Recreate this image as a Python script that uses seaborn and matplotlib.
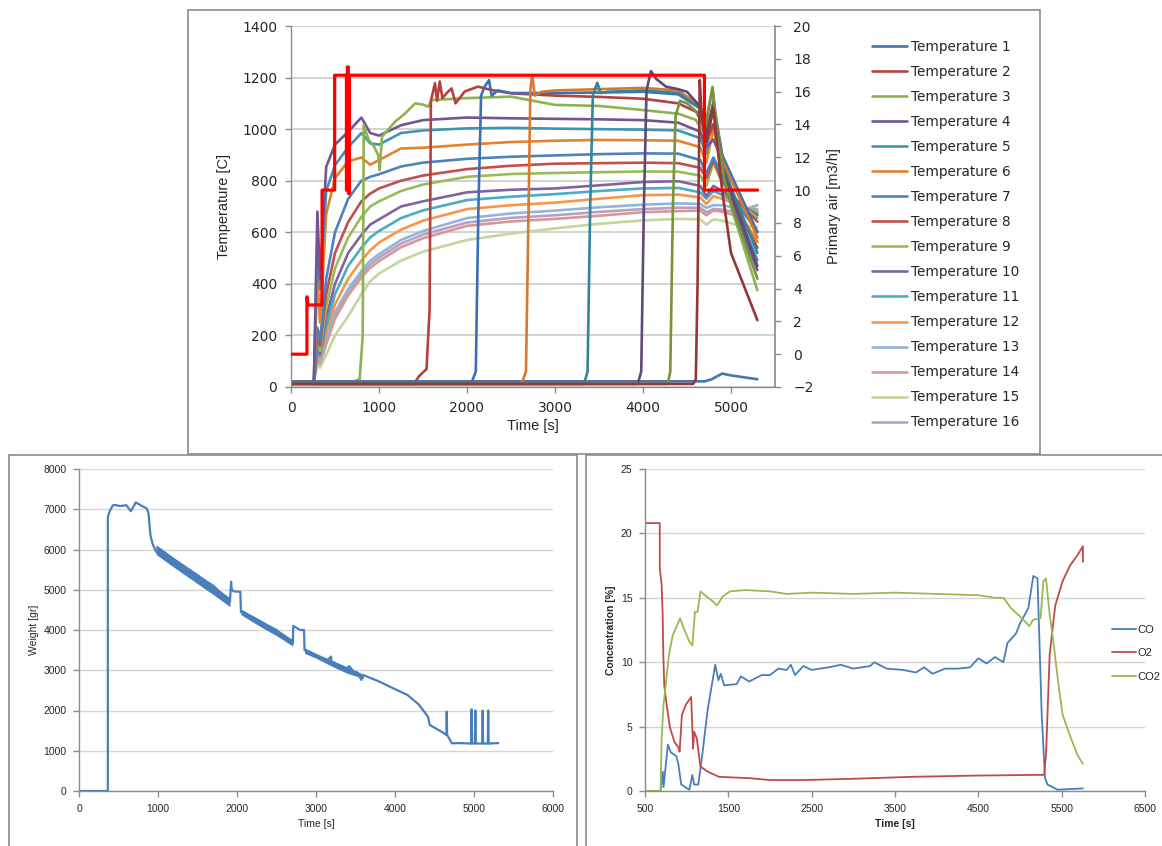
import matplotlib
matplotlib.use("Agg")
import matplotlib.pyplot as plt
import seaborn as sns
from matplotlib.patches import Rectangle

# ---------------- top chart: bed temperatures + primary air ----------------
grad_time = [0, 260, 300, 330, 400, 500, 650, 800, 900, 1000, 1250, 1500, 2000,
             2500, 3000, 3500, 4000, 4400, 4650, 4720, 4800, 4900, 5050, 5300]

temp4 = [20, 20, 680, 420, 854, 940, 990, 1045, 985, 975, 1015, 1035, 1045, 1042,
         1040, 1038, 1035, 1025, 990, 930, 960, 880, 680, 453]
temp5 = [20, 20, 590, 380, 760, 860, 930, 985, 945, 940, 985, 995, 1003, 1005,
         1002, 1000, 998, 995, 965, 905, 1110, 900, 700, 492]
temp6 = [20, 20, 440, 250, 670, 810, 875, 890, 862, 880, 925, 928, 940, 950,
         955, 958, 957, 955, 930, 870, 1000, 870, 700, 563]
temp7 = [20, 20, 230, 180, 420, 600, 730, 800, 815, 825, 855, 870, 885, 893,
         898, 903, 906, 905, 880, 830, 890, 820, 720, 602]
temp8 = [20, 20, 200, 160, 360, 520, 640, 720, 750, 770, 800, 820, 845, 858,
         866, 868, 870, 868, 850, 810, 880, 800, 730, 641]
temp9 = [20, 20, 170, 140, 310, 460, 580, 660, 700, 720, 760, 785, 815, 826,
         830, 833, 836, 835, 820, 780, 870, 790, 730, 654]
temp10 = [20, 20, 150, 130, 270, 400, 520, 590, 630, 650, 700, 720, 755, 765,
          770, 782, 795, 798, 780, 740, 780, 760, 720, 665]
temp11 = [20, 20, 140, 120, 235, 360, 470, 540, 580, 605, 655, 685, 725, 738,
          748, 760, 770, 772, 755, 730, 760, 745, 715, 673]
temp12 = [20, 20, 130, 110, 210, 320, 420, 490, 530, 560, 610, 645, 690, 705,
          715, 730, 744, 746, 735, 710, 740, 730, 710, 680]
temp13 = [20, 20, 120, 100, 185, 290, 380, 450, 490, 515, 570, 605, 655, 673,
          684, 697, 707, 712, 710, 695, 705, 705, 695, 690]
temp14 = [20, 20, 110, 90, 165, 265, 355, 425, 462, 488, 542, 577, 625, 642,
          652, 664, 678, 682, 684, 666, 684, 680, 665, 670]
temp15 = [20, 20, 90, 75, 125, 200, 275, 360, 410, 440, 490, 525, 570, 595,
          615, 633, 646, 652, 650, 630, 650, 645, 630, 620]
temp16 = [20, 20, 115, 95, 175, 280, 368, 438, 476, 502, 556, 591, 638, 656,
          666, 679, 690, 695, 695, 678, 690, 688, 678, 705]

t1_time = [0, 4700, 4780, 4900, 5000, 5300]
temp1 = [22, 22, 30, 52, 45, 30]

t2_time = [0, 300, 1400, 1450, 1540, 1575, 1590, 1636, 1660, 1690, 1720, 1767,
           1824, 1870, 1899, 1974, 2124, 2275, 2500, 3000, 3500, 4000, 4400,
           4650, 4720, 4800, 4900, 5050, 5300]
temp2 = [20, 12, 12, 40, 70, 300, 1110, 1178, 1110, 1185, 1120, 1139, 1158, 1100,
         1113, 1146, 1165, 1152, 1139, 1130, 1125, 1118, 1100, 1060, 950, 1020,
         870, 700, 540]

t3_time = [0, 700, 780, 815, 827, 850, 883, 940, 990, 1008, 1034, 1184, 1297,
           1410, 1500, 1560, 1598, 1974, 2500, 3000, 3500, 4000, 4400, 4600, 4700,
           4790, 4850, 5000, 5300]
temp3 = [20, 20, 30, 200, 1016, 990, 958, 935, 900, 841, 971, 1029, 1061, 1100,
         1095, 1087, 1113, 1120, 1126, 1094, 1090, 1074, 1060, 1036, 980, 1165,
         960, 700, 375]

# thermocouples reached later by the front (not in the legend)
rb_time = [0, 2050, 2100, 2130, 2160, 2200, 2250, 2280, 2350, 2500, 3000, 3500,
           4000, 4400, 4650, 4720, 4800, 4900, 5300]
rb_temp = [15, 15, 60, 700, 1130, 1165, 1190, 1130, 1150, 1140, 1140, 1142, 1145,
           1135, 1080, 980, 1080, 900, 600]
ro_time = [0, 2620, 2670, 2700, 2720, 2740, 2770, 2850, 3000, 3500, 4000, 4400,
           4650, 4720, 4800, 4900, 5300]
ro_temp = [12, 12, 60, 700, 1150, 1210, 1130, 1145, 1150, 1155, 1160, 1150, 1090,
           1000, 1100, 880, 580]
rt_time = [0, 3330, 3370, 3400, 3430, 3480, 3520, 3600, 4000, 4400, 4650, 4720,
           4800, 4900, 5300]
rt_temp = [12, 12, 60, 700, 1130, 1180, 1140, 1145, 1150, 1140, 1080, 990, 1090,
           860, 520]
rp_time = [0, 3940, 3980, 4010, 4040, 4090, 4150, 4260, 4400, 4500, 4650, 4720,
           4800, 4900, 5300]
rp_temp = [12, 12, 60, 700, 1150, 1225, 1195, 1165, 1155, 1145, 1087, 980, 1100,
           850, 470]
rg_time = [0, 4280, 4310, 4340, 4370, 4420, 4500, 4600, 4700, 4790, 4850, 4950, 5300]
rg_temp = [12, 12, 60, 700, 1050, 1110, 1100, 1070, 1000, 1160, 960, 760, 420]
rr_time = [0, 4570, 4600, 4620, 4645, 4665, 4700, 4720, 4800, 4900, 5000, 5300]
rr_temp = [12, 12, 30, 400, 1190, 1060, 980, 950, 1080, 760, 520, 259]

air_time = [0, 181, 181, 195, 353, 353, 496, 496, 630, 630, 640, 640, 652, 652,
            664, 664, 4698, 4698, 5302]
air_flow = [0, 0, 3.5, 3.0, 3.0, 10, 10, 17, 17, 10, 10, 17.5, 17.5, 9.8, 9.8,
            17, 17, 10, 10]

# ---------------- bottom left: weight ----------------
weight_time = [0, 365, 365, 380, 400, 430, 459, 520, 600, 656, 700, 717, 780, 857,
               880, 904, 930, 974, 1200, 1500, 1700, 1911, 1925, 1934, 1960, 2042,
               2050, 2300, 2500, 2707, 2712, 2731, 2800, 2848, 2855, 3000, 3129,
               3190, 3200, 3220, 3300, 3363, 3420, 3480, 3520, 3574, 3600, 3800,
               4000, 4159, 4300, 4417, 4440, 4600, 4651, 4655, 4660, 4721, 4800,
               4965, 4970, 4975, 5010, 5017, 5024, 5105, 5110, 5115, 5175, 5180,
               5185, 5307]
weight_gr = [0, 0, 6800, 6900, 7000, 7100, 7105, 7080, 7100, 6950, 7100, 7170, 7100,
             7020, 6900, 6360, 6150, 5950, 5700, 5350, 5100, 4700, 5200, 5000, 4960,
             4950, 4450, 4200, 4000, 3670, 4100, 4080, 4000, 4000, 3500, 3370, 3210,
             3340, 3130, 3200, 3050, 3010, 3100, 2960, 2950, 2760, 2880, 2720, 2530,
             2385, 2150, 1847, 1640, 1460, 1391, 1970, 1391, 1184, 1190, 1180, 2030,
             1180, 1180, 2000, 1180, 1180, 2000, 1180, 1180, 2000, 1180, 1190]
# scatter band of the scale signal
band1_time = [974, 1200, 1500, 1700, 1911]
band1_lo = [5880, 5560, 5150, 4880, 4580]
band1_hi = [6120, 5800, 5400, 5100, 4800]
band2_time = [2050, 2300, 2500, 2707]
band2_lo = [4380, 4080, 3860, 3600]
band2_hi = [4520, 4250, 4020, 3760]
band3_time = [2855, 3000, 3200, 3400, 3600]
band3_lo = [3420, 3300, 3100, 2920, 2800]
band3_hi = [3560, 3420, 3250, 3080, 2900]

# ---------------- bottom right: gas concentrations ----------------
co_time = [500, 686, 713, 722, 775, 810, 877, 900, 935, 1032, 1068, 1090, 1140,
           1187, 1254, 1343, 1380, 1409, 1450, 1600, 1650, 1750, 1900, 2000, 2100,
           2200, 2250, 2300, 2400, 2500, 2700, 2850, 3000, 3200, 3250, 3400, 3600,
           3750, 3850, 3950, 4100, 4250, 4400, 4500, 4600, 4700, 4800, 4850, 4950,
           5000, 5100, 5160, 5210, 5260, 5300, 5330, 5450, 5600, 5755]
co_pct = [0, 0, 1.5, 0.3, 3.6, 3.0, 2.7, 2.1, 0.5, 0.1, 1.25, 0.5, 0.5, 2.8, 6.4,
          9.8, 8.6, 9.1, 8.2, 8.3, 8.9, 8.5, 9.0, 9.0, 9.5, 9.4, 9.8, 9.0, 9.7, 9.4,
          9.6, 9.8, 9.5, 9.7, 10.0, 9.5, 9.4, 9.2, 9.6, 9.1, 9.5, 9.5, 9.6, 10.3, 9.9,
          10.4, 10.0, 11.5, 12.2, 13.0, 14.2, 16.7, 16.5, 6.0, 1.0, 0.5, 0.1, 0.15, 0.2]
o2_time = [500, 677, 677, 700, 712, 720, 731, 766, 800, 855, 908, 915, 943, 990,
           1054, 1077, 1090, 1121, 1165, 1254, 1387, 1742, 2000, 2407, 3000, 3700,
           4500, 5200, 5290, 5312, 5356, 5423, 5512, 5600, 5689, 5755, 5755]
o2_pct = [20.8, 20.8, 17.3, 16.0, 13.7, 10.5, 8.2, 6.4, 4.9, 3.8, 3.3, 3.05, 5.9,
          6.7, 7.3, 3.3, 4.6, 4.1, 1.9, 1.5, 1.1, 1.0, 0.85, 0.85, 0.95, 1.1, 1.2,
          1.25, 1.25, 2.8, 10.6, 14.4, 16.3, 17.5, 18.3, 19.0, 17.8]
co2_time = [500, 686, 700, 722, 745, 788, 833, 921, 966, 1032, 1068, 1099, 1130,
            1165, 1220, 1298, 1365, 1431, 1520, 1700, 2000, 2200, 2500, 3000, 3500,
            4000, 4500, 4700, 4802, 4891, 5024, 5112, 5157, 5246, 5281, 5312, 5356,
            5400, 5467, 5512, 5600, 5689, 5755]
co2_pct = [0, 0, 4.1, 6.7, 8.0, 10.6, 12.1, 13.4, 12.6, 11.6, 11.3, 13.9, 13.9, 15.5,
           15.2, 14.8, 14.4, 15.1, 15.5, 15.6, 15.5, 15.3, 15.4, 15.3, 15.4, 15.3,
           15.2, 15.0, 15.0, 14.2, 13.4, 12.8, 13.3, 13.4, 16.3, 16.5, 13.7, 11.6,
           8.0, 5.9, 4.3, 2.8, 2.1]

W, H = 1162, 846
sns.set_theme(style="white")
plt.rcParams['font.family'] = ['DejaVu Sans']

fig = plt.figure(figsize=(W / 100, H / 100), dpi=100)

def rect(x0, y0, x1, y1):
    return [x0 / W, 1 - y1 / H, (x1 - x0) / W, (y1 - y0) / H]

# panel frames
for x0, y0, x1, y1 in [(188, 10, 1040, 454), (9, 455, 577, 852), (586, 455, 1170, 852)]:
    fig.patches.append(Rectangle((x0 / W, 1 - y1 / H), (x1 - x0) / W, (y1 - y0) / H,
                                 transform=fig.transFigure, fill=False,
                                 ec='#8c8c8c', lw=1.2))

spine_c = '#8c8c8c'
grid_c = '#d0d0d0'
lab_c = '#262626'


def excel_axes(ax, size, pad):
    for s in ['top', 'right']:
        ax.spines[s].set_visible(False)
    for s in ['left', 'bottom']:
        ax.spines[s].set_color(spine_c)
        ax.spines[s].set_linewidth(1.0)
    ax.tick_params(direction='out', length=4, width=1, color=spine_c,
                   labelsize=size, labelcolor=lab_c, pad=pad,
                   left=True, bottom=True)
    ax.grid(axis='y', color=grid_c, lw=1.3)
    ax.grid(axis='x', visible=False)
    ax.set_axisbelow(True)


# ---- top ----
ax = fig.add_axes(rect(291, 26, 775, 387))
excel_axes(ax, 10, 6)

legend_series = [
    (t1_time, temp1, '#4675b3'), (t2_time, temp2, '#b5413e'),
    (t3_time, temp3, '#8db350'), (grad_time, temp4, '#725693'),
    (grad_time, temp5, '#3e97b0'), (grad_time, temp6, '#e5822e'),
    (grad_time, temp7, '#4f81bd'), (grad_time, temp8, '#c0504d'),
    (grad_time, temp9, '#9bbb59'), (grad_time, temp10, '#8064a2'),
    (grad_time, temp11, '#4bacc6'), (grad_time, temp12, '#f79646'),
    (grad_time, temp13, '#95b3d7'), (grad_time, temp14, '#d99694'),
    (grad_time, temp15, '#c3d69b'), (grad_time, temp16, '#b3a2c7'),
]
extra_series = [
    (rb_time, rb_temp, '#3c6fb5'), (ro_time, ro_temp, '#d8782c'),
    (rt_time, rt_temp, '#31859c'), (rp_time, rp_temp, '#604a7b'),
    (rg_time, rg_temp, '#77933c'), (rr_time, rr_temp, '#953735'),
]

handles = []
labels = []
for i in range(15, -1, -1):
    tt, vv, c = legend_series[i]
    sns.lineplot(x=tt, y=vv, ax=ax, color=c, lw=1.9, estimator=None, sort=False)
    handles.insert(0, ax.lines[-1])
    labels.insert(0, 'Temperature %d' % (i + 1))
for tt, vv, c in extra_series:
    sns.lineplot(x=tt, y=vv, ax=ax, color=c, lw=1.9, estimator=None, sort=False)

ax.set_xlim(0, 5500)
ax.set_ylim(0, 1400)
ax.set_xticks(range(0, 5001, 1000))
ax.set_yticks(range(0, 1401, 200))
ax.set_xlabel('Time [s]', fontsize=10.5, family='Liberation Sans', color=lab_c, labelpad=3)
ax.set_ylabel('Temperature [C]', fontsize=10.5, family='Liberation Sans', color=lab_c, labelpad=8)

ax2 = ax.twinx()
sns.lineplot(x=air_time, y=air_flow, ax=ax2, color='#ff0000', lw=2.3,
             estimator=None, sort=False)
ax2.set_ylim(-2, 20)
ax2.set_yticks(range(-2, 21, 2))
for s in ['top', 'left', 'bottom']:
    ax2.spines[s].set_visible(False)
ax2.spines['right'].set_color(spine_c)
ax2.tick_params(axis='y', direction='out', length=4, width=1, color=spine_c,
                labelsize=10, labelcolor=lab_c, pad=9, right=True)
ax2.grid(False)
ax2.set_ylabel('Primary air [m3/h]', fontsize=10.5, family='Liberation Sans',
               color=lab_c, labelpad=10)

fig.legend(handles, labels, loc='upper left', bbox_to_anchor=(872 / W, 1 - 40 / H),
           frameon=False, fontsize=9.8, handlelength=2.6, handletextpad=0.3,
           labelspacing=0.81, borderpad=0, borderaxespad=0, labelcolor=lab_c)

# ---- bottom left ----
ax3 = fig.add_axes(rect(79, 469, 553, 791))
excel_axes(ax3, 7.5, 5)
ax3.grid(axis='y', color='#d6d6d6', lw=1.0)
for bt, lo, hi in [(band1_time, band1_lo, band1_hi), (band2_time, band2_lo, band2_hi),
                   (band3_time, band3_lo, band3_hi)]:
    ax3.fill_between(bt, lo, hi, color='#4a7ebb', lw=0)
sns.lineplot(x=weight_time, y=weight_gr, ax=ax3, color='#4a7ebb', lw=1.6,
             estimator=None, sort=False)
ax3.set_xlim(0, 6000)
ax3.set_ylim(0, 8000)
ax3.set_xticks(range(0, 6001, 1000))
ax3.set_yticks(range(0, 8001, 1000))
for t in ax3.get_xticklabels() + ax3.get_yticklabels():
    t.set_family('Liberation Sans')
ax3.set_xlabel('Time [s]', fontsize=7.5, family='Liberation Sans', color=lab_c, labelpad=4)
ax3.set_ylabel('Weight [gr]', fontsize=7.5, family='Liberation Sans', color=lab_c, labelpad=3)

# ---- bottom right ----
ax4 = fig.add_axes(rect(645, 469, 1145, 791))
excel_axes(ax4, 7.5, 5)
ax4.grid(axis='y', color='#d6d6d6', lw=1.0)
gas = [(co_time, co_pct, '#4a7ebb', 'CO'), (o2_time, o2_pct, '#be4b48', 'O2'),
       (co2_time, co2_pct, '#98b954', 'CO2')]
gas_handles = []
for tt, vv, c, name in gas:
    sns.lineplot(x=tt, y=vv, ax=ax4, color=c, lw=1.3, estimator=None, sort=False)
    gas_handles.append(ax4.lines[-1])
ax4.set_xlim(500, 6500)
ax4.set_ylim(0, 25)
ax4.set_xticks(range(500, 6501, 1000))
ax4.set_yticks(range(0, 26, 5))
for t in ax4.get_xticklabels() + ax4.get_yticklabels():
    t.set_family('Liberation Sans')
ax4.set_xlabel('Time [s]', fontsize=7.5, family='Liberation Sans', fontweight='bold',
               color=lab_c, labelpad=4)
ax4.set_ylabel('Concentration [%]', fontsize=7.5, family='Liberation Sans',
               fontweight='bold', color=lab_c, labelpad=3.5)
fig.legend(gas_handles, [g[3] for g in gas], loc='upper left',
           bbox_to_anchor=(1112 / W, 1 - 625 / H), frameon=False,
           prop={'family': 'Liberation Sans', 'size': 8}, handlelength=2.2,
           handletextpad=0.05, labelspacing=1.2, borderpad=0, borderaxespad=0,
           labelcolor=lab_c)

fig.savefig('out.png', dpi=100)
